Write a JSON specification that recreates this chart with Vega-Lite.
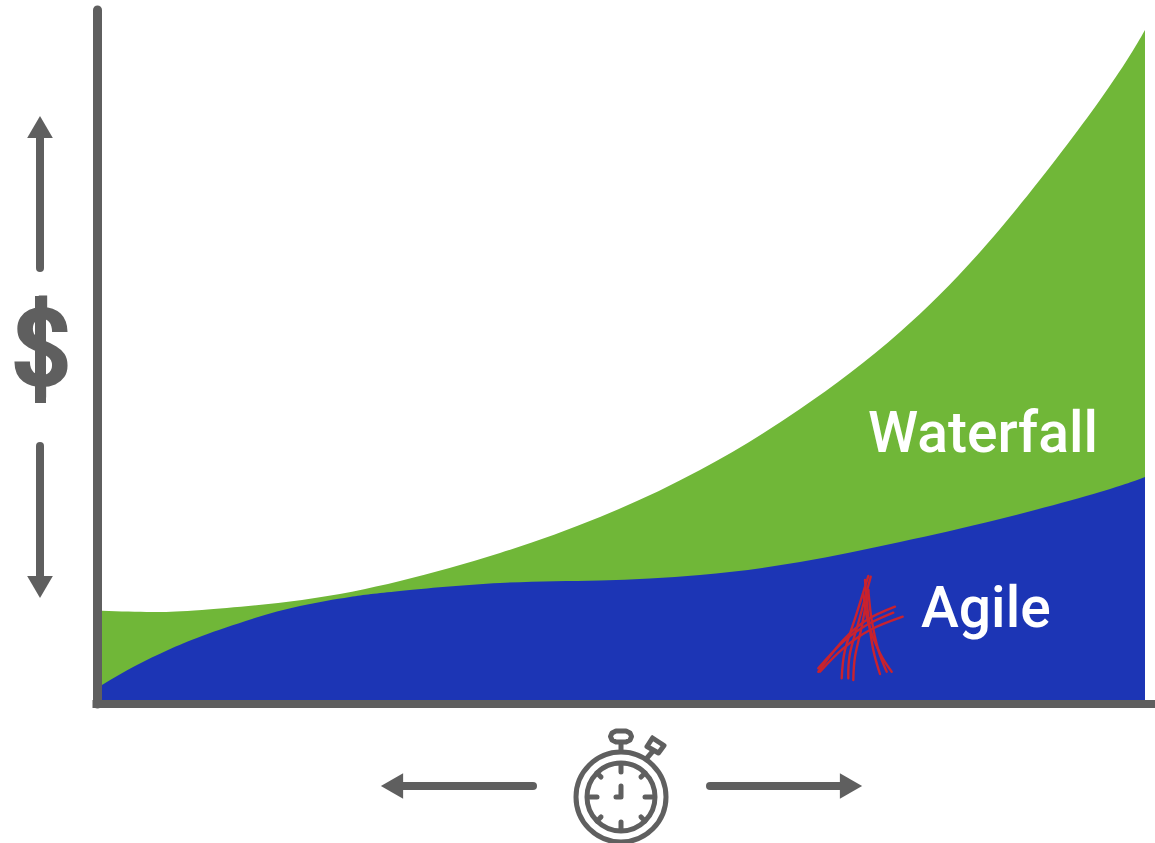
{"$schema":"https://vega.github.io/schema/vega-lite/v6.json","width":1155,"height":843,"autosize":{"type":"none"},"padding":0,"background":"white","config":{"view":{"stroke":null},"axis":{"grid":false}},
"datasets":{
"cost":[
{"s":"Waterfall","t":0,"c":89.3},{"s":"Waterfall","t":50,"c":88},{"s":"Waterfall","t":100,"c":90},{"s":"Waterfall","t":200,"c":100},{"s":"Waterfall","t":298,"c":119},{"s":"Waterfall","t":398,"c":147},{"s":"Waterfall","t":498,"c":183},{"s":"Waterfall","t":598,"c":230},{"s":"Waterfall","t":698,"c":291},{"s":"Waterfall","t":798,"c":368},{"s":"Waterfall","t":898,"c":471},{"s":"Waterfall","t":998,"c":600},{"s":"Waterfall","t":1043,"c":670},
{"s":"Agile","t":0,"c":15},{"s":"Agile","t":33,"c":34},{"s":"Agile","t":66,"c":50},{"s":"Agile","t":100,"c":64},{"s":"Agile","t":150,"c":81},{"s":"Agile","t":198,"c":94},{"s":"Agile","t":248,"c":103},{"s":"Agile","t":298,"c":109},{"s":"Agile","t":398,"c":117},{"s":"Agile","t":498,"c":119.5},{"s":"Agile","t":598,"c":125},{"s":"Agile","t":698,"c":138},{"s":"Agile","t":798,"c":158},{"s":"Agile","t":898,"c":181},{"s":"Agile","t":998,"c":208},{"s":"Agile","t":1043,"c":223}],
"axes":[{"k":"y","i":0,"t":-4.5,"c":690},{"k":"y","i":1,"t":-4.5,"c":-4},{"k":"x","i":0,"t":-9.5,"c":-4},{"k":"x","i":1,"t":1053,"c":-4}],
"arrows":[{"k":"up","i":0,"t":-62,"c":432},{"k":"up","i":1,"t":-62,"c":570},{"k":"down","i":0,"t":-62,"c":254},{"k":"down","i":1,"t":-62,"c":120},{"k":"left","i":0,"t":431,"c":-86},{"k":"left","i":1,"t":293,"c":-86},{"k":"right","i":0,"t":608,"c":-86},{"k":"right","i":1,"t":746,"c":-86}],
"heads":[{"k":"triangle-up","t":-62,"c":573},{"k":"triangle-down","t":-62,"c":113},{"k":"triangle-left","t":290,"c":-86},{"k":"triangle-right","t":749,"c":-86}],
"rings":[{"k":"outer","t":519,"c":-97},{"k":"inner","t":519,"c":-97}],
"bar":[{"i":0,"t":-61.5,"c":404},{"i":1,"t":-61.5,"c":297}],
"watch":[
{"k":"t12","i":0,"t":519,"c":-64},{"k":"t12","i":1,"t":519,"c":-72},
{"k":"t6","i":0,"t":519,"c":-122},{"k":"t6","i":1,"t":519,"c":-130},
{"k":"t3","i":0,"t":543,"c":-97},{"k":"t3","i":1,"t":550,"c":-97},
{"k":"t9","i":0,"t":488,"c":-97},{"k":"t9","i":1,"t":495,"c":-97},
{"k":"ul","i":0,"t":495,"c":-73},{"k":"ul","i":1,"t":499,"c":-77},
{"k":"ur","i":0,"t":543,"c":-73},{"k":"ur","i":1,"t":539,"c":-77},
{"k":"ll","i":0,"t":495,"c":-121},{"k":"ll","i":1,"t":499,"c":-117},
{"k":"lr","i":0,"t":543,"c":-121},{"k":"lr","i":1,"t":539,"c":-117},
{"k":"hand","i":0,"t":519,"c":-86},{"k":"hand","i":1,"t":519,"c":-97},{"k":"hand","i":2,"t":514,"c":-97},
{"k":"stem","i":0,"t":519,"c":-43},{"k":"stem","i":1,"t":519,"c":-50},
{"k":"crown","i":0,"t":514,"c":-31},{"k":"crown","i":1,"t":524,"c":-31},{"k":"crown","i":2,"t":528,"c":-33},{"k":"crown","i":3,"t":529.5,"c":-36.5},{"k":"crown","i":4,"t":528,"c":-40},{"k":"crown","i":5,"t":524,"c":-42},{"k":"crown","i":6,"t":514,"c":-42},{"k":"crown","i":7,"t":510,"c":-40},{"k":"crown","i":8,"t":508.5,"c":-36.5},{"k":"crown","i":9,"t":510,"c":-33},{"k":"crown","i":10,"t":514,"c":-31},
{"k":"pusher","i":0,"t":550.5,"c":-38},{"k":"pusher","i":1,"t":562,"c":-45.5},{"k":"pusher","i":2,"t":556.5,"c":-53},{"k":"pusher","i":3,"t":545,"c":-46.5},{"k":"pusher","i":4,"t":550.5,"c":-38},
{"k":"pstem","i":0,"t":551,"c":-51},{"k":"pstem","i":1,"t":545,"c":-58}],
"logo":[
{"k":"L1","i":0,"t":766.3,"c":124},{"k":"L1","i":1,"t":754.7,"c":86.7},{"k":"L1","i":2,"t":743,"c":50},{"k":"L1","i":3,"t":739.7,"c":21.7},
{"k":"L2","i":0,"t":768.7,"c":123.3},{"k":"L2","i":1,"t":758,"c":83.3},{"k":"L2","i":2,"t":748,"c":46.7},{"k":"L2","i":3,"t":746.3,"c":21.7},
{"k":"L3","i":0,"t":766.3,"c":110},{"k":"L3","i":1,"t":759.7,"c":73.3},{"k":"L3","i":2,"t":753,"c":43.3},{"k":"L3","i":3,"t":751.3,"c":20},
{"k":"R1","i":0,"t":763,"c":120},{"k":"R1","i":1,"t":766.3,"c":83.3},{"k":"R1","i":2,"t":771.3,"c":50},{"k":"R1","i":3,"t":778,"c":26},
{"k":"R2","i":0,"t":766.3,"c":110},{"k":"R2","i":1,"t":769.7,"c":80},{"k":"R2","i":2,"t":776.3,"c":50},{"k":"R2","i":3,"t":784.7,"c":28.3},
{"k":"R3","i":0,"t":761.3,"c":106.7},{"k":"R3","i":1,"t":766.3,"c":76.7},{"k":"R3","i":2,"t":778,"c":46.7},{"k":"R3","i":3,"t":789.7,"c":28.3},
{"k":"C1","i":0,"t":716.3,"c":28.3},{"k":"C1","i":1,"t":741.3,"c":60},{"k":"C1","i":2,"t":764.7,"c":80},{"k":"C1","i":3,"t":793,"c":93.3},
{"k":"C2","i":0,"t":716.3,"c":31.7},{"k":"C2","i":1,"t":741.3,"c":58.3},{"k":"C2","i":2,"t":764.7,"c":75},{"k":"C2","i":3,"t":791.3,"c":87.3},
{"k":"C3","i":0,"t":718,"c":28.3},{"k":"C3","i":1,"t":741.3,"c":51.7},{"k":"C3","i":2,"t":768,"c":70},{"k":"C3","i":3,"t":800.7,"c":83.3}],
"labels":[{"label":"Waterfall","t":766,"c":248},{"label":"Agile","t":819,"c":73}],
"dollar":[{"label":"$","t":-61,"c":347}]
},
"encoding":{
"x":{"field":"t","type":"quantitative","scale":{"domain":[-102,1053],"nice":false,"zero":false},"axis":null},
"y":{"field":"c","type":"quantitative","scale":{"domain":[-143,700],"nice":false,"zero":false},"axis":null}
},
"layer":[
{"data":{"name":"cost"},"transform":[{"filter":"datum.s==='Waterfall'"}],"mark":{"type":"area","interpolate":"natural","color":"#70b738"},"encoding":{"y2":{"datum":0}}},
{"data":{"name":"cost"},"transform":[{"filter":"datum.s==='Agile'"}],"mark":{"type":"area","interpolate":"natural","color":"#1c35b5"},"encoding":{"y2":{"datum":0}}},
{"data":{"name":"logo"},"mark":{"type":"line","interpolate":"cardinal","color":"#c9222e","strokeWidth":2.4,"strokeCap":"round"},"encoding":{"detail":{"field":"k"},"order":{"field":"i"}}},
{"data":{"name":"labels"},"mark":{"type":"text","align":"left","baseline":"alphabetic","font":"Roboto","fontWeight":500,"fontSize":57,"color":"white"},"encoding":{"text":{"field":"label"}}},
{"data":{"name":"axes"},"mark":{"type":"line","color":"#5f5f5f","strokeWidth":9,"strokeCap":"round"},"encoding":{"detail":{"field":"k"},"order":{"field":"i"}},"transform":[{"filter":"datum.k==='y'"}]},
{"data":{"name":"axes"},"mark":{"type":"line","color":"#5f5f5f","strokeWidth":8,"strokeCap":"butt"},"encoding":{"detail":{"field":"k"},"order":{"field":"i"}},"transform":[{"filter":"datum.k==='x'"}]},
{"data":{"name":"arrows"},"mark":{"type":"line","color":"#5f5f5f","strokeWidth":8,"strokeCap":"round"},"encoding":{"detail":{"field":"k"},"order":{"field":"i"}}},
{"data":{"name":"heads"},"mark":{"type":"point","filled":true,"opacity":1,"size":660,"color":"#5f5f5f"},"encoding":{"shape":{"field":"k","type":"nominal","scale":null,"legend":null}}},
{"data":{"name":"dollar"},"mark":{"type":"text","align":"center","baseline":"middle","font":"Roboto","fontWeight":700,"fontSize":110,"color":"#5f5f5f"},"encoding":{"text":{"field":"label"}}},
{"data":{"name":"bar"},"mark":{"type":"line","color":"#5f5f5f","strokeWidth":11,"strokeCap":"butt"},"encoding":{"order":{"field":"i"}}},
{"data":{"name":"rings"},"transform":[{"filter":"datum.k==='outer'"}],"mark":{"type":"point","shape":"circle","filled":false,"opacity":1,"size":8100,"strokeWidth":5,"color":"#5f5f5f"}},
{"data":{"name":"rings"},"transform":[{"filter":"datum.k==='inner'"}],"mark":{"type":"point","shape":"circle","filled":false,"opacity":1,"size":4624,"strokeWidth":5,"color":"#5f5f5f"}},
{"data":{"name":"watch"},"mark":{"type":"line","color":"#5f5f5f","strokeWidth":5,"strokeCap":"round","strokeJoin":"round"},"encoding":{"detail":{"field":"k"},"order":{"field":"i"}}}
]}
